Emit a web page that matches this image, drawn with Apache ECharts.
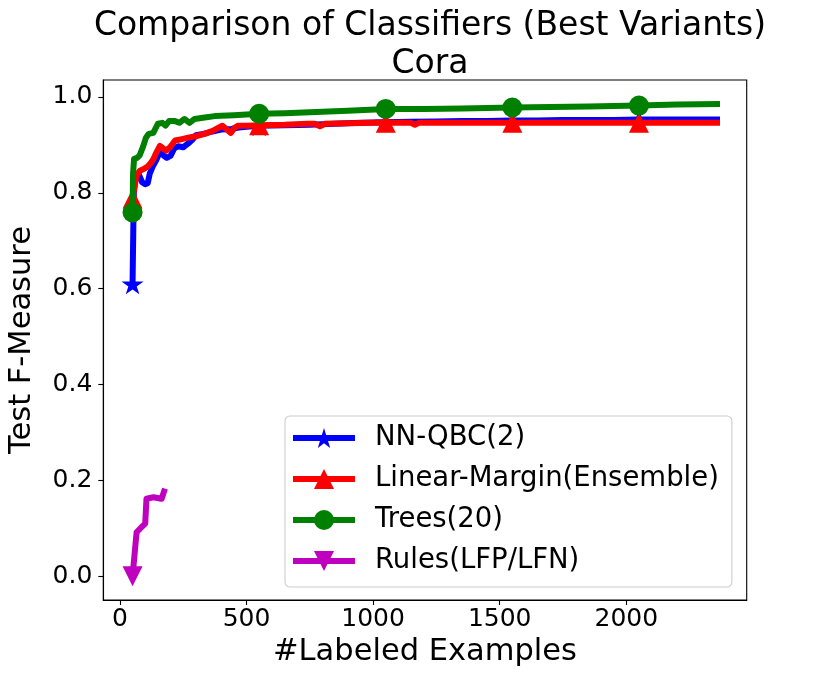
<!DOCTYPE html>
<html><head><meta charset="utf-8">
<script src="https://cdn.jsdelivr.net/npm/echarts@6/dist/echarts.min.js"></script>
<style>html,body{margin:0;padding:0;background:#fff}#c{width:830px;height:675px}</style>
</head><body><div id="c"></div>
<script>
const titleText = 'Comparison of Classifiers (Best Variants)\nCora';
const xName = '#Labeled Examples';
const yName = 'Test F-Measure';
const xTicks = [0, 500, 1000, 1500, 2000];
const yTicks = [0, 0.2, 0.4, 0.6, 0.8, 1.0];
const markerX = [50, 550, 1050, 1550, 2050];
const seriesNames = ['NN-QBC(2)', 'Linear-Margin(Ensemble)', 'Trees(20)', 'Rules(LFP/LFN)'];

const blueX = [50,55,62,75,88,100,110,118,130,145,160,172,185,200,215,230,250,270,285,300,330,360,400,440,470,500,550,650,750,850,950,1050,1150,1250,1350,1450,1550,1650,1750,1850,1950,2050,2150,2250,2370];
const blueY = [0.61,0.80,0.835,0.838,0.822,0.818,0.82,0.84,0.855,0.87,0.888,0.878,0.873,0.877,0.893,0.897,0.895,0.903,0.91,0.92,0.923,0.927,0.932,0.933,0.936,0.938,0.940,0.941,0.942,0.944,0.946,0.947,0.948,0.949,0.950,0.950,0.951,0.951,0.952,0.952,0.952,0.953,0.953,0.953,0.953];

const redX = [50,57,65,79,95,110,122,132,145,158,172,183,198,218,245,270,300,335,370,405,422,438,452,466,500,550,650,740,770,790,810,900,1000,1050,1150,1165,1180,1300,1400,1550,1700,1850,2050,2200,2370];
const redY = [0.788,0.81,0.835,0.846,0.85,0.855,0.862,0.87,0.885,0.898,0.892,0.888,0.895,0.909,0.912,0.915,0.918,0.923,0.93,0.94,0.932,0.925,0.935,0.94,0.94,0.941,0.942,0.944,0.944,0.939,0.944,0.945,0.946,0.946,0.946,0.942,0.946,0.946,0.946,0.946,0.946,0.946,0.946,0.946,0.946];

const greenX = [50,52,56,68,78,92,103,114,132,150,168,180,195,215,235,255,275,295,335,375,450,550,650,750,900,1050,1200,1350,1550,1700,1850,2050,2200,2370];
const greenY = [0.759,0.84,0.871,0.873,0.878,0.897,0.915,0.923,0.925,0.944,0.946,0.94,0.95,0.95,0.946,0.954,0.946,0.954,0.957,0.96,0.962,0.965,0.966,0.968,0.971,0.975,0.975,0.976,0.978,0.979,0.98,0.982,0.984,0.985];

const purpleX = [50,66,86,100,105,132,165,178];
const purpleY = [0.0,0.092,0.103,0.11,0.162,0.165,0.162,0.183];

const colors = ['#0000ff', '#ff0000', '#008000', '#bf00bf'];
const starPath = 'path://M0,-1L0.2245,-0.309L0.951,-0.309L0.363,0.118L0.588,0.809L0,0.382L-0.588,0.809L-0.363,0.118L-0.951,-0.309L-0.2245,-0.309Z';

function build(xs, ys) {
  return xs.map((x, i) => markerX.includes(x) ? [x, ys[i]] : { value: [x, ys[i]], symbol: 'none' });
}

const FONT = 'DejaVu Sans';
const LW = 6;
function mkSeries(idx, xs, ys, symbol, size, rotate) {
  return {
    name: seriesNames[idx], type: 'line', data: build(xs, ys),
    symbol: symbol, symbolSize: size, symbolRotate: rotate || 0, symbolKeepAspect: true,
    showAllSymbol: true, color: colors[idx],
    lineStyle: { width: LW, color: colors[idx], join: 'round' },
    itemStyle: { color: colors[idx] },
    z: 2 + idx, emphasis: { disabled: true }, silent: true
  };
}

const chart = echarts.init(document.getElementById('c'), null, { renderer: 'canvas' });
chart.setOption({
  animation: false,
  backgroundColor: '#fff',
  textStyle: { fontFamily: FONT },
  title: {
    text: titleText, left: 425, top: 2, textAlign: 'center',
    textStyle: { fontFamily: FONT, fontSize: 33, fontWeight: 'normal', color: '#000', lineHeight: 38 }
  },
  grid: { left: 103.3, right: 83.3, top: 80, bottom: 75, show: true, borderColor: '#000', borderWidth: 1.1, outerBoundsMode: 'none', containLabel: false },
  legend: {
    orient: 'vertical', left: 285, top: 416,
    data: seriesNames,
    itemWidth: 62, itemHeight: 25, itemGap: 11,
    padding: [7, 13, 11, 5],
    borderColor: '#cccccc', borderWidth: 1.1, borderRadius: 5,
    backgroundColor: 'rgba(255,255,255,0.8)',
    lineStyle: { width: LW },
    textStyle: { fontFamily: FONT, fontSize: 27.5, color: '#000', lineHeight: 30, padding: [0, 0, 0, 15] },
    selectedMode: false
  },
  xAxis: {
    type: 'value', min: -65.5, max: 2475.5,
    name: xName, nameLocation: 'middle', nameGap: 33,
    nameTextStyle: { fontFamily: FONT, fontSize: 30.5, color: '#000' },
    axisLine: { show: true, onZero: false, lineStyle: { color: '#000', width: 1.1 } },
    axisTick: { show: true, customValues: xTicks, length: 5, lineStyle: { color: '#000', width: 1.1 } },
    axisLabel: { customValues: xTicks, fontFamily: FONT, fontSize: 25, color: '#000', margin: 7, formatter: v => String(v) },
    splitLine: { show: false }
  },
  yAxis: {
    type: 'value', min: -0.0493, max: 1.0353,
    name: yName, nameLocation: 'middle', nameGap: 66, nameRotate: 90,
    nameTextStyle: { fontFamily: FONT, fontSize: 30.5, color: '#000' },
    axisLine: { show: true, onZero: false, lineStyle: { color: '#000', width: 1.1 } },
    axisTick: { show: true, customValues: yTicks, length: 5, lineStyle: { color: '#000', width: 1.1 } },
    axisLabel: { customValues: yTicks, fontFamily: FONT, fontSize: 25, color: '#000', margin: 11, formatter: v => v.toFixed(1) },
    splitLine: { show: false }
  },
  series: [
    mkSeries(0, blueX, blueY, starPath, 22),
    mkSeries(1, redX, redY, 'triangle', 20),
    mkSeries(2, greenX, greenY, 'circle', 20),
    mkSeries(3, purpleX, purpleY, 'triangle', 20, 180)
  ]
});
</script></body></html>
